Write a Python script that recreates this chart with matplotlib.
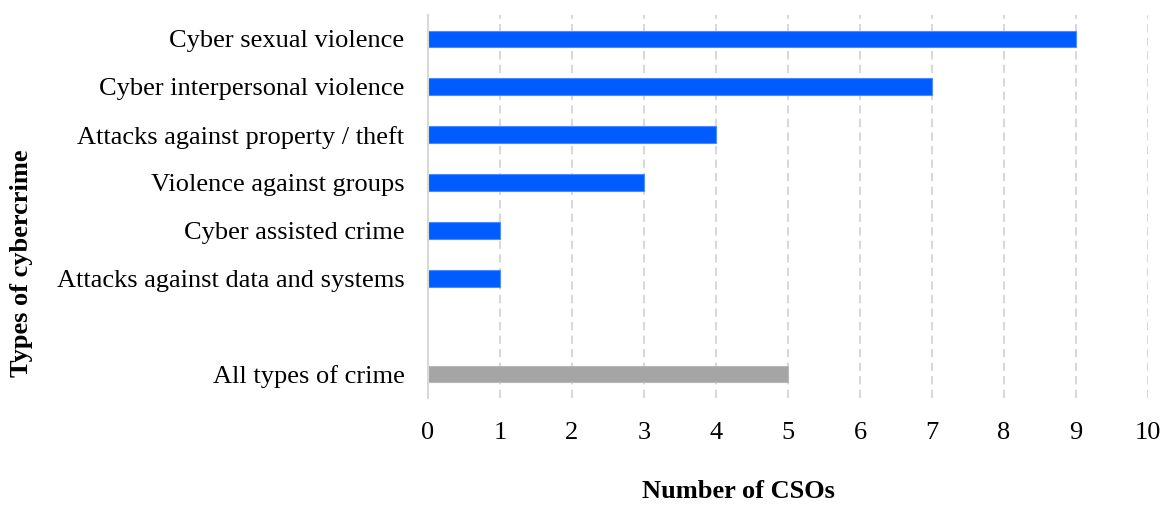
import matplotlib.pyplot as plt
import numpy as np

plt.rcParams['font.family'] = ['Liberation Serif', 'DejaVu Serif']

# number of CSOs per crime type (top to bottom)
crime_types = ['Cyber sexual violence', 'Cyber interpersonal violence',
               'Attacks against property / theft', 'Violence against groups',
               'Cyber assisted crime', 'Attacks against data and systems']
crime_counts = [9, 7, 4, 3, 1, 1]
all_label = 'All types of crime'
all_count = 5

fig = plt.figure(figsize=(11.68, 5.07), dpi=100)
ax = fig.add_axes([428 / 1168, 1 - 398 / 507, 720 / 1168, 383 / 507])

# slots: 0 = all types, 1 = empty gap, 2..7 = crime types
ypos = np.arange(len(crime_types))[::-1] + 2
ax.barh(ypos, crime_counts, height=0.35, color='#005CFF',
        edgecolor='#4A8CFF', linewidth=0.8, zorder=3)
ax.barh([0], [all_count], height=0.35, color='#A5A5A5',
        edgecolor='#B8B8B8', linewidth=0.8, zorder=3)

ax.set_yticks(list(ypos) + [0])
ax.set_yticklabels(crime_types + [all_label], fontsize=19)
ax.set_ylim(-0.5, 7.5)
ax.set_xlim(0, 10)
ax.set_xticks(range(0, 11))
ax.tick_params(axis='x', labelsize=19, length=0, pad=17)
ax.tick_params(axis='y', length=0, pad=17)

ax.grid(axis='x', color='#D9D9D9', linestyle=(0, (4, 2.5)), linewidth=1.5, zorder=0)
for s in ['top', 'right', 'bottom']:
    ax.spines[s].set_visible(False)
ax.spines['left'].set_color('#D9D9D9')
ax.spines['left'].set_linewidth(1.5)
ax.spines['left'].set_zorder(4)

fig.text(738 / 1168, 1 - 492 / 507, 'Number of CSOs', fontsize=19,
         fontweight='bold', ha='center', va='center')
fig.text(22 / 1168, 1 - 263 / 507, 'Types of cybercrime', fontsize=19,
         fontweight='bold', ha='center', va='center', rotation=90)

fig.savefig('out.png', dpi=100)
